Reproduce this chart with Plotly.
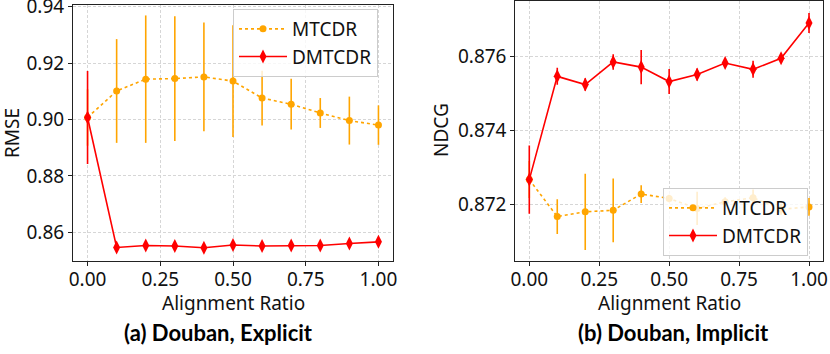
# Alignment ratio sweep: MTCDR vs DMTCDR on Douban (explicit RMSE / implicit NDCG)
import plotly.graph_objects as go

W, H = 830, 354

ratio = [0.0, 0.1, 0.2, 0.3, 0.4, 0.5, 0.6, 0.7, 0.8, 0.9, 1.0]

# (a) Douban, Explicit -- RMSE
rmse_mtcdr = [0.9007, 0.9101, 0.9143, 0.9145, 0.9151, 0.9136, 0.9076, 0.9054, 0.9023, 0.8996, 0.8980]
rmse_mtcdr_err = [0.0100, 0.0184, 0.0226, 0.0221, 0.0193, 0.0198, 0.0097, 0.0090, 0.0053, 0.0085, 0.0070]
rmse_dmtcdr = [0.9007, 0.8546, 0.8553, 0.8551, 0.8545, 0.8555, 0.8551, 0.8553, 0.8553, 0.8560, 0.8566]
rmse_dmtcdr_err = [0.0165, 0.0008, 0.0008, 0.0008, 0.0008, 0.0008, 0.0008, 0.0008, 0.0008, 0.0008, 0.0008]

# (b) Douban, Implicit -- NDCG
ndcg_mtcdr = [0.87267, 0.87167, 0.87180, 0.87184, 0.87228, 0.87216, 0.87189, 0.87207, 0.87218, 0.87187, 0.87193]
ndcg_mtcdr_err = [0.00050, 0.00047, 0.00103, 0.00086, 0.00024, 0.00010, 0.00045, 0.00012, 0.00022, 0.00015, 0.00024]
ndcg_dmtcdr = [0.87267, 0.87546, 0.87524, 0.87585, 0.87571, 0.87532, 0.87551, 0.87582, 0.87565, 0.87595, 0.87690]
ndcg_dmtcdr_err = [0.00092, 0.00023, 0.00017, 0.00021, 0.00046, 0.00034, 0.00016, 0.00011, 0.00023, 0.00012, 0.00027]

x_ticks = [0.0, 0.25, 0.5, 0.75, 1.0]
rmse_ticks = [0.86, 0.88, 0.90, 0.92, 0.94]
ndcg_ticks = [0.872, 0.874, 0.876]

ORANGE = "#FFA500"
RED = "#FF0000"
FONT = "Noto Sans"
FS = 19


def px_x(p):
    return p / W


def px_y(p):
    return 1 - p / H


def add_pair(fig, xa, ya, leg, y1, e1, y2, e2):
    fig.add_trace(go.Scatter(
        x=ratio, y=y1, name="MTCDR", mode="lines+markers",
        xaxis=xa, yaxis=ya, legend=leg,
        line=dict(color=ORANGE, width=1.6, dash="dot"),
        marker=dict(color=ORANGE, size=7, symbol="circle"),
        error_y=dict(type="data", array=e1, color=ORANGE, thickness=1.6, width=0),
    ))
    fig.add_trace(go.Scatter(
        x=ratio, y=y2, name="DMTCDR", mode="lines+markers",
        xaxis=xa, yaxis=ya, legend=leg,
        line=dict(color=RED, width=1.6),
        marker=dict(color=RED, size=10, symbol="diamond-tall"),
        error_y=dict(type="data", array=e2, color=RED, thickness=1.6, width=0),
    ))


fig = go.Figure()
add_pair(fig, "x", "y", "legend", rmse_mtcdr, rmse_mtcdr_err, rmse_dmtcdr, rmse_dmtcdr_err)
add_pair(fig, "x2", "y2", "legend2", ndcg_mtcdr, ndcg_mtcdr_err, ndcg_dmtcdr, ndcg_dmtcdr_err)

axis_common = dict(
    showline=True, mirror=True, linecolor="#222", linewidth=1,
    showgrid=True, gridcolor="#d6d6d6", gridwidth=0.8, griddash="3px,2px",
    zeroline=False, ticks="outside", ticklen=4, tickcolor="#222",
    ticklabeloverflow="allow", automargin=False,
    tickfont=dict(family=FONT, size=FS, color="#111"),
)
legend_common = dict(
    xanchor="left", yanchor="top",
    bgcolor="rgba(255,255,255,0.8)", bordercolor="#cccccc", borderwidth=1,
    font=dict(family=FONT, size=FS, color="#111"), itemwidth=48,
)

fig.update_layout(
    width=W, height=H,
    margin=dict(l=0, r=0, t=0, b=0),
    paper_bgcolor="white", plot_bgcolor="white",
    xaxis=dict(domain=[px_x(73), px_x(393)], range=[-0.05, 1.05], anchor="y",
               tickvals=x_ticks, tickformat=".2f", ticklabelstandoff=-3, **axis_common),
    yaxis=dict(domain=[px_y(261), px_y(5)], range=[0.8498, 0.9406], anchor="x",
               tickvals=rmse_ticks, tickformat=".2f", **axis_common),
    xaxis2=dict(domain=[px_x(515.3), px_x(823)], range=[-0.05, 1.05], anchor="y2",
                tickvals=x_ticks, tickformat=".2f", ticklabelstandoff=-3, **axis_common),
    yaxis2=dict(domain=[px_y(261), px_y(0.5)], range=[0.87047, 0.87751], anchor="x2",
                tickvals=ndcg_ticks, tickformat=".3f", **axis_common),
    legend=dict(x=px_x(233), y=px_y(9), **legend_common),
    legend2=dict(x=px_x(663), y=px_y(188), **legend_common),
)

# Axis titles and panel captions
labels = [
    ("Alignment Ratio", 233, 302.5, 0, FS, FONT, "#111"),
    ("Alignment Ratio", 669, 302.5, 0, FS, FONT, "#111"),
    ("RMSE", 12, 133, -90, FS, FONT, "#111"),
    ("NDCG", 441, 130, -90, FS, FONT, "#111"),
    ("<b>(a) Douban, Explicit</b>", 218, 332, 0, 22, "Lato", "#000"),
    ("<b>(b) Douban, Implicit</b>", 673.5, 332, 0, 22, "Lato", "#000"),
]
for text, x, y, ang, size, fam, col in labels:
    fig.add_annotation(text=text, xref="paper", yref="paper", x=px_x(x), y=px_y(y),
                       xanchor="center", yanchor="middle", showarrow=False, textangle=ang,
                       font=dict(family=fam, size=size, color=col))

# the page body has a default 8px margin; drop it so the figure sits at (0, 0)
fig.write_html("out.html", config={"displayModeBar": False},
               post_script="document.body.style.margin = '0';")
